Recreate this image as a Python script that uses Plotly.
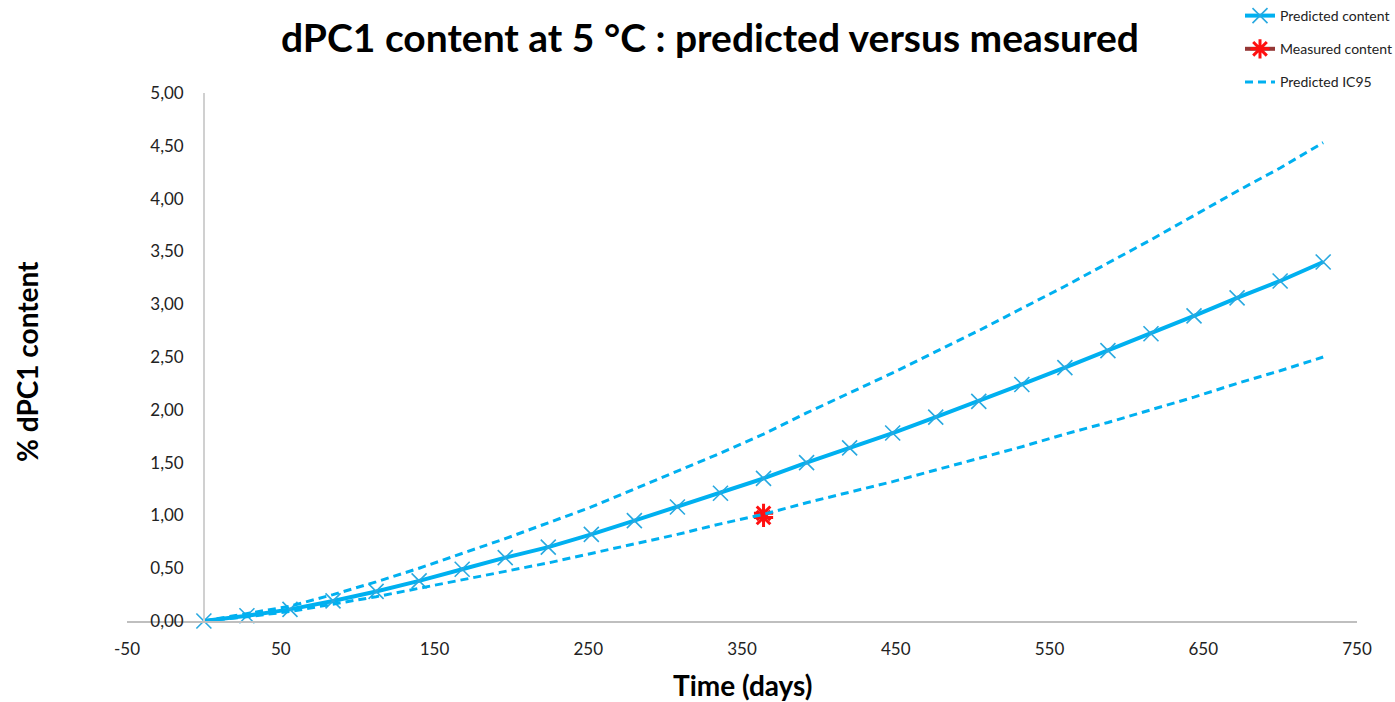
import plotly.graph_objects as go

days = [0, 28, 56, 84, 112, 140, 168, 196, 224, 252, 280, 308, 336, 364,
        392, 420, 448, 476, 504, 532, 560, 588, 616, 644, 672, 700, 728]
predicted = [0.00, 0.05, 0.11, 0.19, 0.28, 0.38, 0.49, 0.60, 0.70, 0.82, 0.95, 1.08, 1.21, 1.35,
             1.50, 1.64, 1.78, 1.93, 2.08, 2.24, 2.40, 2.56, 2.72, 2.89, 3.06, 3.22, 3.40]
ic95_upper = [0.00, 0.07, 0.14, 0.25, 0.37, 0.50, 0.64, 0.78, 0.93, 1.08, 1.25, 1.42, 1.59, 1.77,
              1.97, 2.16, 2.35, 2.55, 2.75, 2.96, 3.17, 3.39, 3.61, 3.84, 4.07, 4.29, 4.53]
ic95_lower = [0.00, 0.04, 0.09, 0.16, 0.23, 0.31, 0.39, 0.47, 0.55, 0.64, 0.73, 0.82, 0.92, 1.01,
              1.12, 1.22, 1.32, 1.43, 1.54, 1.65, 1.77, 1.88, 2.00, 2.12, 2.25, 2.37, 2.50]
measured_days = [364, 364]
measured = [0.98, 1.02]

x_tickvals = [-50, 50, 150, 250, 350, 450, 550, 650, 750]
x_ticktext = ["-50", "50", "150", "250", "350", "450", "550", "650", "750"]

BLUE = "#00b0f0"
FONT = "Lato"

fig = go.Figure()
fig.add_trace(go.Scatter(
    x=days, y=predicted, mode="lines+markers", name="Predicted content",
    line=dict(color=BLUE, width=4),
    marker=dict(symbol="x-thin-open", size=15, color="#29a9e0", line=dict(color="#29a9e0", width=1.6)),
    legendgroup="a", cliponaxis=False))
fig.add_trace(go.Scatter(
    x=measured_days, y=measured, mode="lines+markers", name="Measured content",
    line=dict(color="#953735", width=4),
    marker=dict(symbol="asterisk-open", size=16, color="#ff1010", line=dict(color="#ff1010", width=3)),
    legendgroup="b", cliponaxis=False))
fig.add_trace(go.Scatter(
    x=days, y=ic95_upper, mode="lines", name="Predicted IC95",
    line=dict(color=BLUE, width=3, dash="8px,5px"),
    legendgroup="c", cliponaxis=False))
fig.add_trace(go.Scatter(
    x=days, y=ic95_lower, mode="lines", name="Predicted IC95", showlegend=False,
    line=dict(color=BLUE, width=3, dash="8px,5px"),
    legendgroup="c", cliponaxis=False))

fig.update_layout(
    width=1395, height=702,
    margin=dict(l=127, r=38, t=93, b=81, autoexpand=False),
    paper_bgcolor="white", plot_bgcolor="white",
    separators=",.",
    font=dict(family=FONT, color="#222222"),
    title=dict(text="<b>dPC1 content at 5 °C : predicted versus measured</b>",
               x=710 / 1395, xref="container", xanchor="center",
               y=1 - 38 / 702, yref="container", yanchor="middle",
               font=dict(family=FONT, size=39, color="#000000")),
    xaxis=dict(range=[-50, 750], tickvals=x_tickvals, ticktext=x_ticktext,
               showgrid=False, zeroline=False, showline=True, linecolor="#bfbfbf",
               linewidth=1.5, ticks="", ticklabelstandoff=12,
               tickfont=dict(family=FONT, size=17, color="#222222"),
               anchor="y"),
    yaxis=dict(range=[0, 5], dtick=0.5, tick0=0, tickformat=".2f",
               showgrid=False, zeroline=False, showline=True, linecolor="#d0d0d0",
               linewidth=1.5, ticks="", ticklabelstandoff=16,
               tickfont=dict(family=FONT, size=17, color="#222222"),
               anchor="free", position=50 / 800),
    legend=dict(x=1240 / 1395, xref="container", xanchor="left",
                y=1.0, yref="container", yanchor="top",
                font=dict(family=FONT, size=14, color="#222222"),
                tracegroupgap=12, traceorder="grouped", bgcolor="rgba(0,0,0,0)"),
    showlegend=True,
    annotations=[
        dict(text="<b>Time (days)</b>", xref="paper", yref="paper",
             x=0.5, y=(621 - 685) / 528, xanchor="center", yanchor="middle",
             showarrow=False, font=dict(family=FONT, size=28, color="#000000")),
        dict(text="<b>% dPC1 content</b>", xref="paper", yref="paper",
             x=(27 - 127) / 1230, y=(621 - 362) / 528, xanchor="center", yanchor="middle",
             textangle=-90, showarrow=False, font=dict(family=FONT, size=28, color="#000000")),
    ],
)

fig.write_html("out.html")
